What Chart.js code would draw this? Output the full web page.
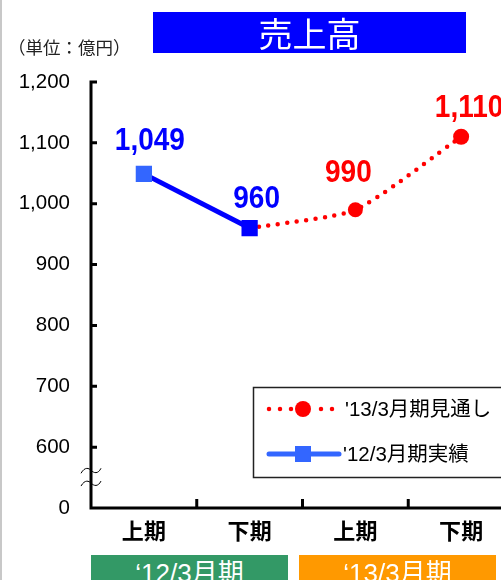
<!DOCTYPE html>
<html lang="ja">
<head>
<meta charset="utf-8">
<title>売上高</title>
<script src="https://cdn.jsdelivr.net/npm/chart.js@4.4.1/dist/chart.umd.min.js"></script>
<style>
    html, body { margin: 0; padding: 0; background: #fff; overflow: hidden; }
    #wrap { position: relative; width: 501px; height: 580px; overflow: hidden; }
    #edge { position: absolute; left: 0; top: 0; width: 2px; height: 580px; background: #c8c8c8; }
    #salesChart { position: absolute; left: 0; top: 0; }
    .title {
        position: absolute; left: 153px; top: 12px; width: 313px; height: 41px;
        background: #0000ff; color: #fff; text-align: center;
        font: 34px/41px "Noto Sans CJK JP", sans-serif;
    }
    .unit {
        position: absolute; left: 8px; top: 36px; color: #222;
        font: 17.5px/22px "Noto Sans CJK JP", sans-serif;
    }
    .period {
        position: absolute; top: 555px; height: 30px; color: #fff; text-align: center;
        font: 26px/36px "Liberation Sans", "Noto Sans CJK JP", sans-serif;
        overflow: hidden;
    }
</style>
</head>
<body>
<div id="wrap">
    <canvas id="salesChart" width="520" height="580"></canvas>
    <div id="edge"></div>
    <div class="title">売上高</div>
    <div class="unit">（単位：億円）</div>
    <div class="period" id="p12" style="left:91px; width:197px; background:#339966;"></div>
    <div class="period" id="p13" style="left:299px; width:197px; background:#ff9900;"></div>
</div>
<script>
// half-year categories
const categories = ["上期", "下期", "上期", "下期"];
// '12/3 actual and '13/3 forecast (億円)
const actual12 = [1049, 960, null, null];
const forecast13 = [null, 960, 990, 1110];
// y axis ticks, the bottom one is drawn as "0" below the axis break
const yTicks = [500, 600, 700, 800, 900, 1000, 1100, 1200];
const seriesNames = ["'12/3月期実績", "'13/3月期見通し"];
const periodNames = ["‘12/3月期", "‘13/3月期"];

document.getElementById("p12").textContent = periodNames[0];
document.getElementById("p13").textContent = periodNames[1];

const latinFont = '"Liberation Sans", "Noto Sans CJK JP", sans-serif';

// axes with inward ticks and the wavy break mark
const axisPlugin = {
    id: "axisPlugin",
    beforeDatasetsDraw(chart) {
        const { ctx, chartArea: a, scales: { x, y } } = chart;
        const top = y.getPixelForValue(yTicks[yTicks.length - 1]);
        ctx.save();
        ctx.strokeStyle = "#000";
        ctx.lineWidth = 3;
        ctx.beginPath();
        ctx.moveTo(a.left, top - 1.5);
        ctx.lineTo(a.left, a.bottom);
        ctx.lineTo(chart.width, a.bottom);
        for (let i = 1; i < yTicks.length; i++) {
            const py = y.getPixelForValue(yTicks[i]);
            ctx.moveTo(a.left, py);
            ctx.lineTo(a.left + 6, py);
        }
        for (let i = 1; i < categories.length; i++) {
            const px = (x.getPixelForValue(i - 1) + x.getPixelForValue(i)) / 2;
            ctx.moveTo(px, a.bottom);
            ctx.lineTo(px, a.bottom - 9);
        }
        ctx.stroke();

        // break mark between the first two ticks
        const y0 = y.getPixelForValue(yTicks[0]);
        const y1 = y.getPixelForValue(yTicks[1]);
        ctx.lineWidth = 1;
        [0.41, 0.62].forEach(f => {
            const by = y0 + (y1 - y0) * f;
            ctx.beginPath();
            ctx.moveTo(a.left - 10, by + 3);
            ctx.bezierCurveTo(a.left - 6, by - 4, a.left - 2, by - 2, a.left, by);
            ctx.bezierCurveTo(a.left + 3, by + 3, a.left + 7, by + 4, a.left + 10, by - 2);
            ctx.stroke();
        });
        ctx.restore();
    }
};

// value labels above the points
const labelPlugin = {
    id: "pointLabels",
    afterDatasetsDraw(chart) {
        const ctx = chart.ctx;
        chart.data.datasets.forEach((ds, di) => {
            const meta = chart.getDatasetMeta(di);
            meta.data.forEach((pt, i) => {
                const off = ds.labelOffsets[i];
                if (ds.data[i] == null || !off) return;
                ctx.save();
                ctx.translate(pt.x + off[0], pt.y + off[1]);
                ctx.scale(1, 1.1);
                ctx.fillStyle = ds.labelColor;
                ctx.font = "bold 28px " + latinFont;
                ctx.textAlign = "center";
                ctx.textBaseline = "middle";
                ctx.fillText(Number(ds.data[i]).toLocaleString("en-US"), 0, 0);
                ctx.restore();
            });
        });
    }
};

// boxed legend inside the plot
const legendPlugin = {
    id: "boxLegend",
    afterDraw(chart) {
        const ctx = chart.ctx;
        ctx.save();
        ctx.fillStyle = "#fff";
        ctx.fillRect(253, 387, 300, 90);
        ctx.strokeStyle = "#222";
        ctx.lineWidth = 1.5;
        ctx.strokeRect(253.5, 387.5, 300, 90);

        // forecast: dotted red with a circle
        ctx.strokeStyle = "#ff0000";
        ctx.fillStyle = "#ff0000";
        ctx.lineWidth = 4.5;
        ctx.lineCap = "round";
        ctx.setLineDash([0, 11]);
        ctx.beginPath();
        ctx.moveTo(269, 409); ctx.lineTo(292, 409);
        ctx.moveTo(321, 409); ctx.lineTo(333, 409);
        ctx.stroke();
        ctx.setLineDash([]);
        ctx.beginPath();
        ctx.arc(303, 409, 8, 0, Math.PI * 2);
        ctx.fill();

        // actual: solid blue with a square
        ctx.strokeStyle = "#3366ff";
        ctx.fillStyle = "#3366ff";
        ctx.lineWidth = 5;
        ctx.beginPath();
        ctx.moveTo(269, 454); ctx.lineTo(339, 454);
        ctx.stroke();
        ctx.fillRect(295, 446, 16, 16);

        ctx.fillStyle = "#000";
        ctx.font = "20.5px " + latinFont;
        ctx.textBaseline = "middle";
        ctx.fillText(seriesNames[1], 345, 410);
        ctx.fillText(seriesNames[0], 343, 455);
        ctx.restore();
    }
};

new Chart(document.getElementById("salesChart"), {
    type: "line",
    data: {
        labels: categories,
        datasets: [
            {
                label: seriesNames[0],
                data: actual12,
                order: 1,
                borderColor: "#0000ff",
                borderWidth: 5,
                pointStyle: "rect",
                pointRadius: 11.5,
                pointBorderWidth: 0,
                pointBackgroundColor: ["#3366ff", "#0000ff", "#0000ff", "#0000ff"],
                labelColor: "#0000ff",
                labelOffsets: [[6, -32], [7, -29], null, null]
            },
            {
                label: seriesNames[1],
                data: forecast13,
                order: 2,
                borderColor: "#ff0000",
                borderWidth: 4.5,
                borderDash: [0, 9.5],
                borderCapStyle: "round",
                tension: 0.2,
                pointStyle: "circle",
                pointRadius: [0, 0, 7.5, 8],
                pointBorderWidth: 0,
                pointBackgroundColor: "#ff0000",
                labelColor: "#ff0000",
                labelOffsets: [null, null, [-7, -36], [8, -28]]
            }
        ]
    },
    options: {
        responsive: false,
        animation: false,
        layout: { autoPadding: false, padding: { top: 82, right: 6, bottom: 32, left: 0 } },
        plugins: {
            legend: { display: false },
            tooltip: { enabled: false }
        },
        scales: {
            x: {
                offset: true,
                grid: { display: false, drawTicks: false },
                border: { display: false },
                afterFit: function (scale) { scale.height = 40; },
                ticks: {
                    padding: 9,
                    color: "#000",
                    font: { family: '"Noto Sans CJK JP", sans-serif', size: 22, weight: "bold" }
                }
            },
            y: {
                min: yTicks[0],
                max: yTicks[yTicks.length - 1],
                grid: { display: false, drawTicks: false },
                border: { display: false },
                afterFit: function (scale) { scale.width = 91; },
                afterBuildTicks: function (scale) {
                    scale.ticks = yTicks.map(v => ({ value: v }));
                },
                ticks: {
                    padding: 21,
                    color: "#000",
                    font: { family: latinFont, size: 20.5 },
                    callback: function (value) {
                        return value === yTicks[0] ? "0" : Number(value).toLocaleString("en-US");
                    }
                }
            }
        }
    },
    plugins: [axisPlugin, labelPlugin, legendPlugin]
});
</script>
</body>
</html>
